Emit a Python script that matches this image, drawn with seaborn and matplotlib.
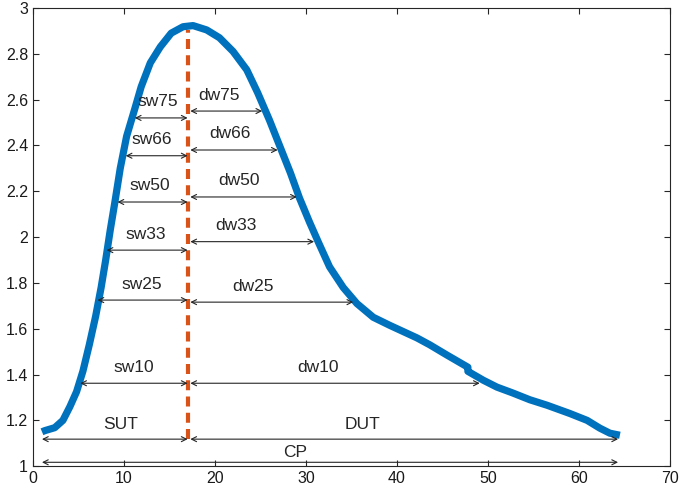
import matplotlib
matplotlib.use("Agg")
import matplotlib.pyplot as plt
import seaborn as sns
import pandas as pd

# pulse waveform (small step near x=47.8)
wave_x = [1.0, 1.3, 2.4, 3.3, 4.07, 4.8, 5.5, 6.2, 6.9, 7.5, 8.0, 8.5, 9.0, 9.6, 10.3,
          11.2, 11.9, 12.9, 14.0, 15.2, 16.5, 17.6, 19.1, 20.5, 22.0, 23.5, 24.7, 26.0,
          27.2, 28.3, 29.3, 30.4, 31.4, 32.6, 34.1, 35.6, 37.4, 39.2, 42.2, 43.6, 45.5,
          47.8, 47.8, 49.5, 51.0, 52.7, 54.6, 56.5, 59.0, 60.9, 62.3, 63.4, 64.5]
wave_y = [1.15, 1.155, 1.168, 1.20, 1.26, 1.325, 1.415, 1.53, 1.655, 1.78, 1.90, 2.03,
          2.15, 2.30, 2.44, 2.56, 2.656, 2.76, 2.83, 2.89, 2.918, 2.923, 2.904, 2.87,
          2.81, 2.73, 2.63, 2.51, 2.39, 2.28, 2.17, 2.065, 1.975, 1.87, 1.78, 1.71, 1.65,
          1.615, 1.56, 1.53, 1.485, 1.432, 1.414, 1.375, 1.345, 1.32, 1.29, 1.266, 1.23,
          1.20, 1.166, 1.144, 1.135]

peak_x = 17.0

# width levels
levels = ["75", "66", "50", "33", "25", "10"]
sw_start = [11.2, 10.2, 9.3, 8.1, 7.1, 5.2]
sw_y = [2.52, 2.355, 2.153, 1.943, 1.725, 1.362]
sw_label_x = [13.7, 13.1, 12.9, 12.4, 12.0, 11.1]
dw_end = [25.2, 26.9, 29.0, 30.9, 35.2, 49.1]
dw_y = [2.55, 2.38, 2.175, 1.98, 1.716, 1.362]
dw_label_x = [20.5, 21.6, 22.7, 22.3, 24.2, 31.3]

cycle_start, cycle_end = 1.0, 64.3
ut_y = 1.118
ut_label_x = [9.6, 36.2]
cp_y = 1.017
cp_label_x = 28.8

blue = "#0072BD"
orange = "#D95319"
dark = "#262626"

sns.set_style("white")
plt.rcParams["font.family"] = ["Liberation Sans", "DejaVu Sans"]

fig = plt.figure(figsize=(6.85, 4.97), dpi=100)
ax = fig.add_axes([0.048, 0.062, 0.930, 0.922])

wave = pd.DataFrame({"x": wave_x, "y": wave_y})
sns.lineplot(data=wave, x="x", y="y", sort=False, estimator=None, color=blue,
             lw=5.2, solid_capstyle="butt", solid_joinstyle="round", ax=ax, zorder=3)

ax.plot([peak_x, peak_x], [ut_y, 2.905], color=orange, lw=3, ls=(0, (2.4, 1.5)), zorder=4)


def arrow(x0, x1, y):
    ax.annotate("", xy=(x1, y), xytext=(x0, y),
                arrowprops=dict(arrowstyle="<->", color=dark, lw=0.8,
                                shrinkA=0, shrinkB=0, mutation_scale=9), zorder=5)


fs = 12.5
for i, lv in enumerate(levels):
    arrow(sw_start[i], peak_x, sw_y[i])
    arrow(peak_x + 0.3, dw_end[i], dw_y[i])
    ax.text(sw_label_x[i], sw_y[i] + 0.07, "sw" + lv, ha="center", va="center",
            fontsize=fs, color=dark)
    ax.text(dw_label_x[i], dw_y[i] + 0.07, "dw" + lv, ha="center", va="center",
            fontsize=fs, color=dark)

arrow(cycle_start, peak_x, ut_y)
arrow(peak_x + 0.3, cycle_end, ut_y)
ax.text(ut_label_x[0], ut_y + 0.065, "SUT", ha="center", va="center", fontsize=fs, color=dark)
ax.text(ut_label_x[1], ut_y + 0.065, "DUT", ha="center", va="center", fontsize=fs, color=dark)
arrow(cycle_start, cycle_end, cp_y)
ax.text(cp_label_x, cp_y + 0.042, "CP", ha="center", va="center", fontsize=fs, color=dark)

ax.set_xlim(0, 70)
ax.set_ylim(1, 3)
ax.set_xticks(range(0, 71, 10))
ax.set_yticks([1 + 0.2 * k for k in range(11)])
ax.set_yticklabels(["1", "1.2", "1.4", "1.6", "1.8", "2", "2.2", "2.4", "2.6", "2.8", "3"])
ax.set_xlabel("")
ax.set_ylabel("")
ax.tick_params(direction="in", length=4, width=0.8, colors=dark, labelsize=11.5,
               top=True, right=True, bottom=True, left=True, labelcolor="#1a1a1a")
for sp in ax.spines.values():
    sp.set_visible(True)
    sp.set_color(dark)
    sp.set_linewidth(0.8)

fig.savefig("out.png", dpi=100)
